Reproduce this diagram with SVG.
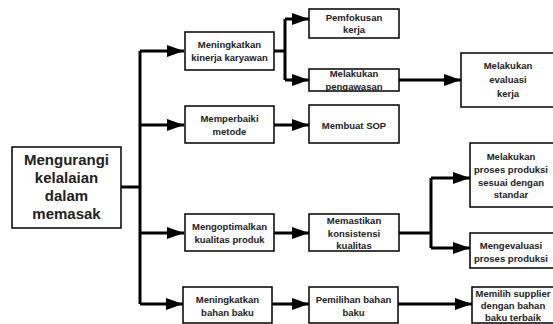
<svg xmlns="http://www.w3.org/2000/svg" width="553" height="324" viewBox="0 0 553 324">
<style>
.box{fill:#fff;stroke:#000;stroke-width:1.5}
.t{font-family:"Liberation Sans",Arial,sans-serif;font-weight:bold;font-size:9.5px;text-anchor:middle;fill:#222}
.big{font-family:"Liberation Sans",Arial,sans-serif;font-weight:bold;font-size:15px;text-anchor:middle;fill:#222}
.c{fill:none;stroke:#000;stroke-width:3}
</style>
<defs>
<marker id="ah" markerUnits="userSpaceOnUse" markerWidth="17" markerHeight="12" refX="17" refY="6" orient="auto">
<path d="M0,0 L17,6 L0,12 z" fill="#000"/>
</marker>
</defs>
<rect width="553" height="324" fill="#fff"/>
<g id="connectors">
<path class="c" d="M121,187 H140"/>
<path class="c" d="M140,51 V304"/>
<path class="c" d="M140,51 H184" marker-end="url(#ah)"/>
<path class="c" d="M140,125 H184" marker-end="url(#ah)"/>
<path class="c" d="M140,233 H184" marker-end="url(#ah)"/>
<path class="c" d="M140,304 H183" marker-end="url(#ah)"/>
<path class="c" d="M274,51 H285"/>
<path class="c" d="M285,19 V80"/>
<path class="c" d="M285,19 H309" marker-end="url(#ah)"/>
<path class="c" d="M285,80 H309" marker-end="url(#ah)"/>
<path class="c" d="M399,80 H461" marker-end="url(#ah)"/>
<path class="c" d="M274,125 H309" marker-end="url(#ah)"/>
<path class="c" d="M274,233 H309" marker-end="url(#ah)"/>
<path class="c" d="M399,233 H431"/>
<path class="c" d="M431,178 V248"/>
<path class="c" d="M431,178 H470" marker-end="url(#ah)"/>
<path class="c" d="M431,248 H470" marker-end="url(#ah)"/>
<path class="c" d="M272,304 H309" marker-end="url(#ah)"/>
<path class="c" d="M398,304 H472" marker-end="url(#ah)"/>
</g>
<g id="root">
<rect class="box" x="12" y="147" width="109" height="81"/>
<text class="big" x="66.5" y="165">Mengurangi</text>
<text class="big" x="66.5" y="183">kelalaian</text>
<text class="big" x="66.5" y="201">dalam</text>
<text class="big" x="66.5" y="219">memasak</text>
</g>
<g id="n-kinerja">
<rect class="box" x="185" y="32" width="89" height="38"/>
<text class="t" x="229.5" y="48">Meningkatkan</text>
<text class="t" x="229.5" y="61">kinerja karyawan</text>
</g>
<g id="n-metode">
<rect class="box" x="185" y="106" width="89" height="37"/>
<text class="t" x="229.5" y="121.5">Memperbaiki</text>
<text class="t" x="229.5" y="134.5">metode</text>
</g>
<g id="n-kualitas">
<rect class="box" x="185" y="214" width="89" height="37"/>
<text class="t" x="229.5" y="229.5">Mengoptimalkan</text>
<text class="t" x="229.5" y="242.5">kualitas produk</text>
</g>
<g id="n-bahan">
<rect class="box" x="183" y="287" width="89" height="36"/>
<text class="t" x="227.5" y="302.5">Meningkatkan</text>
<text class="t" x="227.5" y="315.5">bahan baku</text>
</g>
<g id="n-pemfokusan">
<rect class="box" x="309" y="9" width="90" height="29"/>
<text class="t" x="354" y="20.5">Pemfokusan</text>
<text class="t" x="354" y="32.5">kerja</text>
</g>
<g id="n-pengawasan">
<rect class="box" x="309" y="69" width="90" height="22"/>
<text class="t" x="354" y="76.5">Melakukan</text>
<text class="t" x="354" y="89.5">pengawasan</text>
</g>
<g id="n-evaluasi">
<rect class="box" x="461" y="53" width="95" height="54"/>
<text class="t" x="508" y="68.5">Melakukan</text>
<text class="t" x="508" y="83">evaluasi</text>
<text class="t" x="508" y="96.5">kerja</text>
</g>
<g id="n-sop">
<rect class="box" x="309" y="105" width="90" height="38"/>
<text class="t" x="354" y="128.5">Membuat SOP</text>
</g>
<g id="n-konsistensi">
<rect class="box" x="309" y="214" width="90" height="37"/>
<text class="t" x="354" y="223.5">Memastikan</text>
<text class="t" x="354" y="236.5">konsistensi</text>
<text class="t" x="354" y="248.5">kualitas</text>
</g>
<g id="n-standar">
<rect class="box" x="470" y="143" width="86" height="64"/>
<text class="t" x="511" y="159.5">Melakukan</text>
<text class="t" x="511" y="172.5">proses produksi</text>
<text class="t" x="511" y="186">sesuai dengan</text>
<text class="t" x="511" y="198">standar</text>
</g>
<g id="n-mengevaluasi">
<rect class="box" x="470" y="233" width="86" height="35"/>
<text class="t" x="511" y="248.5">Mengevaluasi</text>
<text class="t" x="511" y="261.5">proses produksi</text>
</g>
<g id="n-pemilihan">
<rect class="box" x="309" y="287" width="89" height="36"/>
<text class="t" x="353.5" y="302.5">Pemilihan bahan</text>
<text class="t" x="353.5" y="316">baku</text>
</g>
<g id="n-supplier">
<rect class="box" x="472" y="287" width="84" height="36"/>
<text class="t" x="513" y="296.5">Memilih supplier</text>
<text class="t" x="513" y="308.5">dengan bahan</text>
<text class="t" x="513" y="320.5">baku terbaik</text>
</g>
</svg>
